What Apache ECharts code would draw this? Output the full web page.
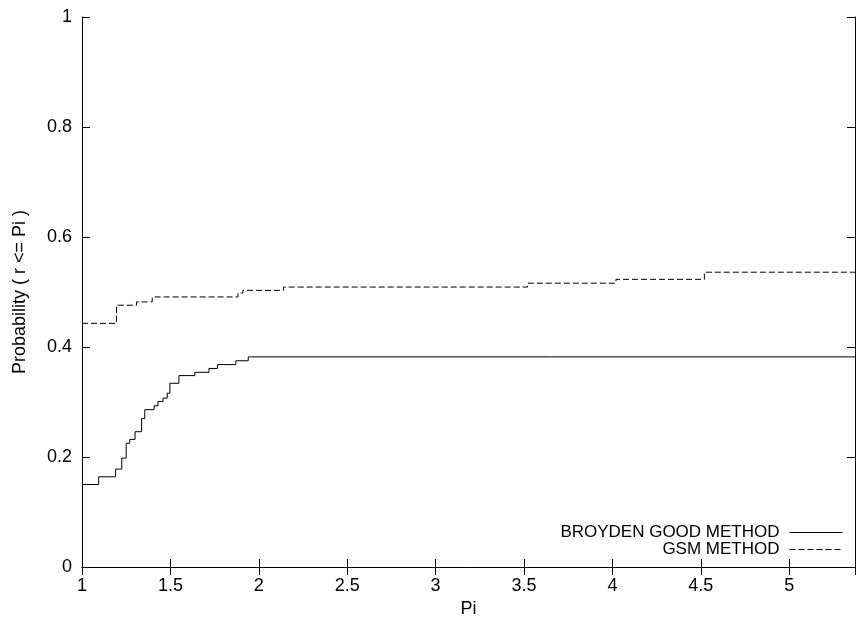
<!DOCTYPE html>
<html>
<head>
<meta charset="utf-8">
<script src="https://cdn.jsdelivr.net/npm/echarts@6/dist/echarts.min.js"></script>
<style>html,body{margin:0;padding:0;background:#fff}#c{width:856px;height:617px}</style>
</head>
<body>
<div id="c"></div>
<script>
// Broyden good method: start x of each level and its probability
var broydenX = [1.0, 1.094, 1.19, 1.225, 1.25, 1.27, 1.30, 1.337, 1.355, 1.408, 1.43, 1.458, 1.482, 1.497, 1.548, 1.638, 1.718, 1.766, 1.87, 1.94, 5.372];
var broydenY = [0.150, 0.164, 0.178, 0.198, 0.225, 0.232, 0.246, 0.270, 0.286, 0.293, 0.301, 0.307, 0.316, 0.334, 0.348, 0.354, 0.361, 0.368, 0.375, 0.382, 0.382];
// GSM method
var gsmX = [1.0, 1.195, 1.308, 1.397, 1.882, 1.91, 2.14, 3.52, 4.02, 4.52, 5.372];
var gsmY = [0.443, 0.476, 0.482, 0.491, 0.498, 0.503, 0.509, 0.516, 0.523, 0.536, 0.536];
var xTicks = [1, 1.5, 2, 2.5, 3, 3.5, 4, 4.5, 5];
var yTicks = [0, 0.2, 0.4, 0.6, 0.8, 1];
var seriesNames = ['BROYDEN GOOD METHOD', 'GSM METHOD'];

function pairs(xs, ys) { return xs.map(function (x, i) { return [x, ys[i]]; }); }

var FONT = '"Liberation Sans", Arial, sans-serif';
var xMin = 1, xMax = 5.372;
var chart = echarts.init(document.getElementById('c'), null, { renderer: 'canvas' });
var labelStyle = { color: '#000', fontFamily: FONT, fontSize: 18 };
chart.setOption({
  animation: false,
  backgroundColor: '#fff',
  grid: { left: 82, right: 1, top: 17, bottom: 50, containLabel: false, outerBoundsMode: 'none' },
  legend: {
    orient: 'vertical', align: 'right', right: 13, bottom: 59, padding: 0,
    itemWidth: 53, itemHeight: 12, itemGap: 0,
    itemStyle: { opacity: 0 },
    lineStyle: { width: 1 },
    textStyle: { color: '#000', fontFamily: FONT, fontSize: 17, lineHeight: 17, padding: [0, 5, 0, 0] },
    data: seriesNames
  },
  xAxis: [{
    type: 'value', min: xMin, max: xMax, interval: 0.5,
    name: 'Pi', nameLocation: 'middle', nameGap: 32,
    nameTextStyle: { color: '#000', fontFamily: FONT, fontSize: 18 },
    axisLine: { lineStyle: { color: '#000', width: 1 } },
    axisTick: { inside: true, length: 8, lineStyle: { color: '#000' } },
    axisLabel: Object.assign({ margin: 10, showMaxLabel: false, formatter: function (v) { return xTicks.indexOf(v) >= 0 ? String(v) : ''; } }, labelStyle),
    splitLine: { show: false }
  }, {
    type: 'value', position: 'top', min: xMin, max: xMax, interval: 0.5,
    axisLine: { lineStyle: { color: '#000', width: 1 } },
    axisTick: { inside: true, length: 8, lineStyle: { color: '#000' } },
    axisLabel: { show: false }, splitLine: { show: false }
  }],
  yAxis: [{
    type: 'value', min: 0, max: 1, interval: 0.2,
    name: 'Probability ( r <= Pi )', nameLocation: 'middle', nameGap: 53,
    nameTextStyle: { color: '#000', fontFamily: FONT, fontSize: 18 },
    axisLine: { show: true, lineStyle: { color: '#000', width: 1 } },
    axisTick: { show: true, inside: true, length: 8, lineStyle: { color: '#000' } },
    axisLabel: Object.assign({ margin: 10, formatter: function (v) { return yTicks.indexOf(+v.toFixed(1)) >= 0 ? String(+v.toFixed(1)) : ''; } }, labelStyle),
    splitLine: { show: false }
  }, {
    type: 'value', position: 'right', min: 0, max: 1, interval: 0.2,
    axisLine: { show: true, lineStyle: { color: '#000', width: 1 } },
    axisTick: { show: true, inside: true, length: 8, lineStyle: { color: '#000' } },
    axisLabel: { show: false }, splitLine: { show: false }
  }],
  series: [{
    name: seriesNames[0], type: 'line', step: 'end', symbol: 'none',
    data: pairs(broydenX, broydenY),
    lineStyle: { color: '#000', width: 1, type: 'solid' },
    itemStyle: { color: '#000' }
  }, {
    name: seriesNames[1], type: 'line', step: 'end', symbol: 'none',
    data: pairs(gsmX, gsmY),
    lineStyle: { color: '#000', width: 1, type: [6, 3] },
    itemStyle: { color: '#000' }
  }]
});
</script>
</body>
</html>
